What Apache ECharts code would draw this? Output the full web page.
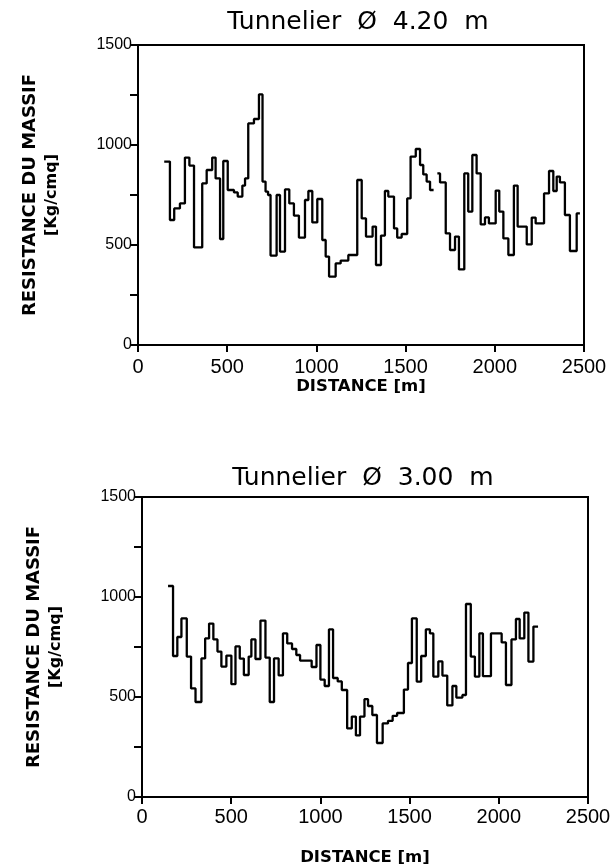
<!DOCTYPE html>
<html>
<head>
<meta charset="utf-8">
<script src="https://cdn.jsdelivr.net/npm/echarts@6/dist/echarts.min.js"></script>
<style>html,body{margin:0;padding:0;background:#fff}#c{width:616px;height:868px}</style>
</head>
<body>
<div id="c"></div>
<script>
// Tunnelier Ø 4.20 m : step start distance [m] and rock mass resistance [Kg/cmq]
const distA = [147,179,203,235,263,288,314,360,385,416,435,460,478,503,538,559,585,600,618,650,678,698,715,729,743,777,796,824,848,874,902,936,955,977,1005,1033,1052,1071,1108,1136,1179,1229,1254,1278,1315,1334,1362,1384,1403,1435,1453,1478,1509,1528,1557,1581,1599,1618,1637,1657,1678,1693,1725,1749,1777,1799,1829,1851,1874,1898,1921,1945,1967,2005,2025,2048,2076,2107,2128,2179,2207,2229,2276,2304,2328,2347,2365,2393,2421,2459,2477];
const resA = [917,625,683,708,937,897,488,808,875,937,833,530,920,775,763,742,797,833,1108,1130,1253,817,767,750,447,750,467,778,708,647,537,725,770,613,730,525,442,342,408,422,450,825,633,542,592,400,547,770,742,583,537,555,733,942,980,900,853,817,775,null,858,813,558,475,542,378,858,667,950,858,603,638,608,772,667,533,450,797,592,503,637,608,758,870,770,842,813,650,470,658,658];

// Tunnelier Ø 3.00 m
const distB = [146,174,198,221,251,275,300,333,354,376,400,423,445,473,501,524,548,571,598,613,636,664,692,716,740,766,790,814,841,865,886,951,978,1000,1024,1048,1071,1097,1120,1150,1176,1199,1222,1247,1267,1291,1317,1349,1379,1405,1430,1468,1491,1513,1540,1565,1591,1614,1633,1661,1684,1711,1740,1762,1796,1816,1843,1866,1891,1911,1956,2016,2040,2071,2096,2117,2143,2166,2194,2220];
const resB = [1055,705,800,893,702,543,475,693,793,867,788,727,652,707,564,753,692,610,702,788,690,882,697,475,693,608,818,768,740,710,682,650,760,587,555,838,595,578,535,343,402,308,402,489,455,410,270,368,381,406,420,537,670,893,577,705,838,818,602,678,607,458,555,497,510,965,702,602,818,604,818,773,560,788,890,793,922,677,852,852];

const titles = ['Tunnelier  Ø  4.20  m', 'Tunnelier  Ø  3.00  m'];
const xTicks = [0, 500, 1000, 1500, 2000, 2500];
const yTicks = [0, 500, 1000, 1500];
const xName = 'DISTANCE [m]';
const yName1 = 'RESISTANCE DU MASSIF';
const yName2 = '[Kg/cmq]';

const pair = (d, r) => d.map((x, i) => [x, r[i]]);
const font = 'Liberation Sans';

function xAxis(idx, gap, margin) {
  return {
    type: 'value', gridIndex: idx, min: 0, max: 2500, interval: 500,
    name: xName, nameLocation: 'middle', nameGap: gap,
    nameTextStyle: {color: '#000', fontFamily: 'DejaVu Sans', fontWeight: 'bold', fontSize: 16.5},
    axisLine: {show: true, lineStyle: {color: '#000', width: 2}},
    axisTick: {show: true, length: 7, lineStyle: {color: '#000', width: 2}},
    axisLabel: {color: '#000', fontFamily: font, fontSize: 20, margin: margin,
      formatter: v => xTicks.includes(v) ? String(v) : ''},
    splitLine: {show: false}
  };
}
function yAxis(idx) {
  return {
    type: 'value', gridIndex: idx, min: 0, max: 1500, interval: 250,
    name: '{a|' + yName1 + '}\n{b|' + yName2 + '}', nameLocation: 'middle', nameGap: 76, nameRotate: 90,
    nameTextStyle: {color: '#000', fontFamily: 'DejaVu Sans', fontWeight: 'bold',
      rich: {
        a: {fontFamily: 'DejaVu Sans', fontWeight: 'bold', fontSize: 18, lineHeight: 21, color: '#000'},
        b: {fontFamily: 'DejaVu Sans', fontWeight: 'bold', fontSize: 16, lineHeight: 21, color: '#000'}
      }},
    axisLine: {show: true, lineStyle: {color: '#000', width: 2}},
    axisTick: {show: true, length: 8, lineStyle: {color: '#000', width: 2}},
    axisLabel: {color: '#000', fontFamily: font, fontSize: 16, margin: 6,
      formatter: v => yTicks.includes(v) ? String(v) : ''},
    splitLine: {show: false}
  };
}
function series(idx, data) {
  return {
    type: 'line', xAxisIndex: idx, yAxisIndex: idx, step: 'end',
    data: data, showSymbol: false, connectNulls: false, animation: false,
    lineStyle: {color: '#000', width: 2.3}
  };
}

const chart = echarts.init(document.getElementById('c'), null, {renderer: 'canvas'});
chart.setOption({
  backgroundColor: '#fff',
  animation: false,
  title: [
    {text: titles[0], left: 353, top: 5, textAlign: 'center',
      textStyle: {fontFamily: 'DejaVu Sans', fontWeight: 'normal', fontSize: 25, color: '#000'}},
    {text: titles[1], left: 358, top: 461, textAlign: 'center',
      textStyle: {fontFamily: 'DejaVu Sans', fontWeight: 'normal', fontSize: 25, color: '#000'}}
  ],
  grid: [
    {left: 138, right: 32, top: 45, bottom: 523, show: true, borderColor: '#000', borderWidth: 2, containLabel: false},
    {left: 142, right: 28, top: 497, bottom: 71, show: true, borderColor: '#000', borderWidth: 2, containLabel: false}
  ],
  xAxis: [xAxis(0, 30, 12), xAxis(1, 52, 10)],
  yAxis: [yAxis(0), yAxis(1)],
  series: [series(0, pair(distA, resA)), series(1, pair(distB, resB))]
});
</script>
</body>
</html>
